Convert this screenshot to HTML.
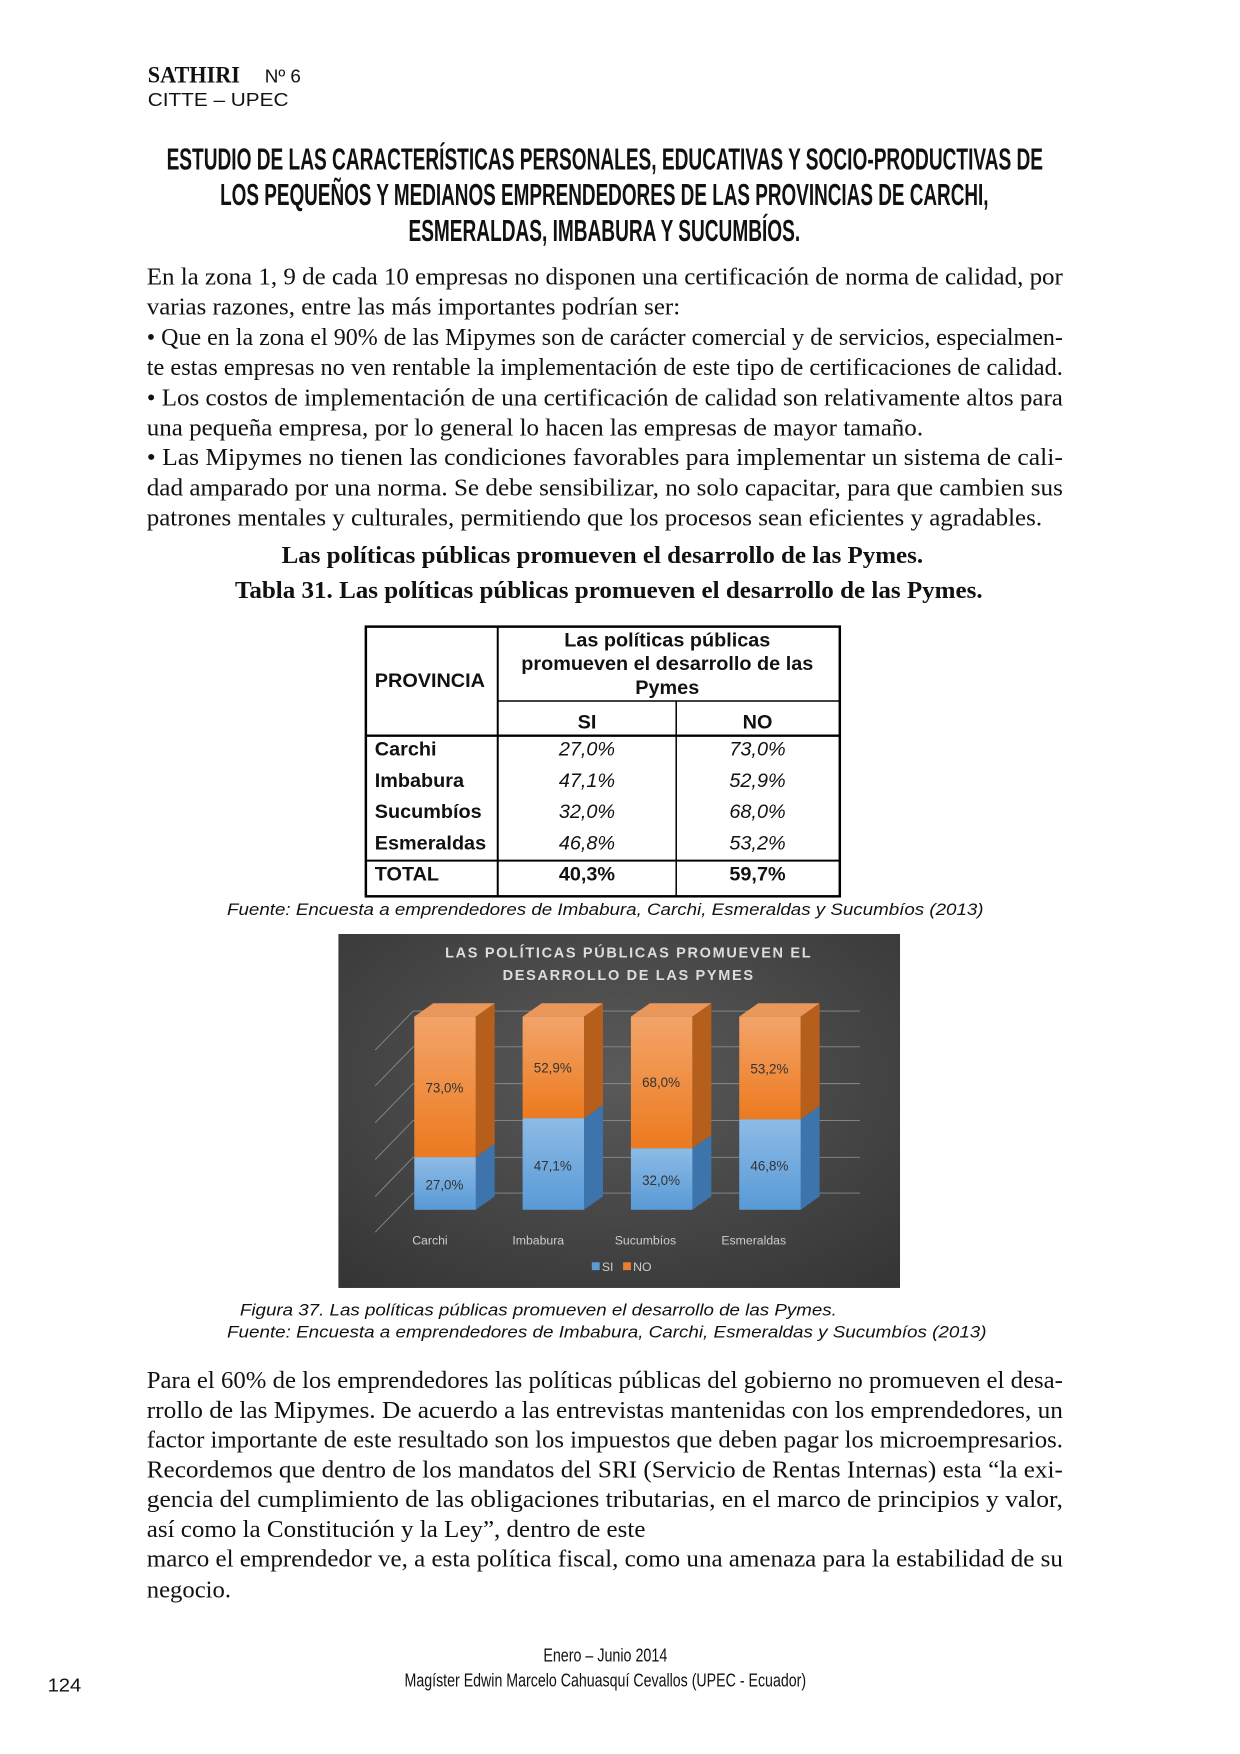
<!DOCTYPE html>
<html><head><meta charset="utf-8"><style>html,body{margin:0;padding:0;background:#fff}svg{display:block}</style></head>
<body>
<svg width="1240" height="1754" viewBox="0 0 1240 1754" xmlns="http://www.w3.org/2000/svg">
<rect width="1240" height="1754" fill="#fff"/>
<g fill="#111" transform="scale(0.9915)">
<text x="149" y="83" font-family="Liberation Serif, serif" font-weight="bold" font-size="23" textLength="93" lengthAdjust="spacingAndGlyphs">SATHIRI</text>
<text x="267" y="83" font-family="Liberation Sans, sans-serif" font-size="19">Nº 6</text>
<text x="149" y="107" font-family="Liberation Sans, sans-serif" font-size="19" textLength="142" lengthAdjust="spacingAndGlyphs">CITTE – UPEC</text>

<g font-family="Liberation Sans Narrow, Liberation Sans, sans-serif" font-weight="bold" font-size="31">
<text x="168" y="171" textLength="884" lengthAdjust="spacingAndGlyphs">ESTUDIO DE LAS CARACTERÍSTICAS PERSONALES, EDUCATIVAS Y SOCIO-PRODUCTIVAS DE</text>
<text x="222" y="207" textLength="775" lengthAdjust="spacingAndGlyphs">LOS PEQUEÑOS Y MEDIANOS EMPRENDEDORES DE LAS PROVINCIAS DE CARCHI,</text>
<text x="412" y="243" textLength="395" lengthAdjust="spacingAndGlyphs">ESMERALDAS, IMBABURA Y SUCUMBÍOS.</text>
</g>

<g font-family="Liberation Serif, serif" font-size="25">
<text x="148" y="287" textLength="924" lengthAdjust="spacingAndGlyphs">En la zona 1, 9 de cada 10 empresas no disponen una certificación de norma de calidad, por</text>
<text x="148" y="317" textLength="538" lengthAdjust="spacingAndGlyphs">varias razones, entre las más importantes podrían ser:</text>
<text x="148" y="348" textLength="924" lengthAdjust="spacingAndGlyphs">• Que en la zona el 90% de las Mipymes son de carácter comercial y de servicios, especialmen-</text>
<text x="148" y="378" textLength="924" lengthAdjust="spacingAndGlyphs">te estas empresas no ven rentable la implementación de este tipo de certificaciones de calidad.</text>
<text x="148" y="409" textLength="924" lengthAdjust="spacingAndGlyphs">• Los costos de implementación de una certificación de calidad son relativamente altos para</text>
<text x="148" y="439" textLength="783" lengthAdjust="spacingAndGlyphs">una pequeña empresa, por lo general lo hacen las empresas de mayor tamaño.</text>
<text x="148" y="469" textLength="924" lengthAdjust="spacingAndGlyphs">• Las Mipymes no tienen las condiciones favorables para implementar un sistema de cali-</text>
<text x="148" y="500" textLength="924" lengthAdjust="spacingAndGlyphs">dad amparado por una norma. Se debe sensibilizar, no solo capacitar, para que cambien sus</text>
<text x="148" y="530" textLength="903" lengthAdjust="spacingAndGlyphs">patrones mentales y culturales, permitiendo que los procesos sean eficientes y agradables.</text>
</g>
<g font-family="Liberation Serif, serif" font-size="25" font-weight="bold">
<text x="284" y="568" textLength="647" lengthAdjust="spacingAndGlyphs">Las políticas públicas promueven el desarrollo de las Pymes.</text>
<text x="237" y="603" textLength="754" lengthAdjust="spacingAndGlyphs">Tabla 31. Las políticas públicas promueven el desarrollo de las Pymes.</text>
</g>

<g stroke="#000" fill="none">
<rect x="369" y="632" width="478" height="272" stroke-width="2.5"/>
<line x1="502" y1="632" x2="502" y2="904" stroke-width="2"/>
<line x1="682" y1="707" x2="682" y2="904" stroke-width="1.5"/>
<line x1="502" y1="707" x2="847" y2="707" stroke-width="1.5"/>
<line x1="369" y1="742" x2="847" y2="742" stroke-width="2.5"/>
<line x1="369" y1="868" x2="847" y2="868" stroke-width="2"/>
</g>
<g font-family="Liberation Sans, sans-serif" font-size="20">
<text x="378" y="693" font-weight="bold">PROVINCIA</text>
<g font-weight="bold" text-anchor="middle">
<text x="673" y="652">Las políticas públicas</text>
<text x="673" y="676">promueven el desarrollo de las</text>
<text x="673" y="700">Pymes</text>
<text x="592" y="735">SI</text>
<text x="764" y="735">NO</text>
</g>
<g font-weight="bold">
<text x="378" y="762">Carchi</text>
<text x="378" y="794">Imbabura</text>
<text x="378" y="825">Sucumbíos</text>
<text x="378" y="857">Esmeraldas</text>
<text x="378" y="888">TOTAL</text>
</g>
<g font-style="italic" text-anchor="middle">
<text x="592" y="762">27,0%</text><text x="764" y="762">73,0%</text>
<text x="592" y="794">47,1%</text><text x="764" y="794">52,9%</text>
<text x="592" y="825">32,0%</text><text x="764" y="825">68,0%</text>
<text x="592" y="857">46,8%</text><text x="764" y="857">53,2%</text>
</g>
<g font-weight="bold" text-anchor="middle">
<text x="592" y="888">40,3%</text><text x="764" y="888">59,7%</text>
</g>
</g>
<text x="229" y="923" font-family="Liberation Sans, sans-serif" font-size="17" font-style="italic" textLength="763" lengthAdjust="spacingAndGlyphs">Fuente: Encuesta a emprendedores de Imbabura, Carchi, Esmeraldas y Sucumbíos (2013)</text>

<svg x="341" y="942" width="567" height="357" viewBox="303 836 503 317">
<defs>
<radialGradient id="bg" cx="0.5" cy="0.4" r="0.8"><stop offset="0" stop-color="#5a5a5a"/><stop offset="1" stop-color="#333"/></radialGradient>
<linearGradient id="or" x1="0" y1="0" x2="0" y2="1"><stop offset="0" stop-color="#f3a46a"/><stop offset="1" stop-color="#ec7a1f"/></linearGradient>
<linearGradient id="bl" x1="0" y1="0" x2="0" y2="1"><stop offset="0" stop-color="#8dbbe6"/><stop offset="1" stop-color="#589ad6"/></linearGradient>
</defs>
<rect x="303" y="836" width="503" height="317" fill="url(#bg)"/>
<g fill="#ddd" font-family="Liberation Sans, DejaVu Sans, sans-serif" font-size="13" font-weight="bold" text-anchor="middle" letter-spacing="1.5">
<text x="563" y="857">LAS POLÍTICAS PÚBLICAS PROMUEVEN EL</text>
<text x="563" y="877">DESARROLLO DE LAS PYMES</text>
</g>
<g stroke="#8a8a8a" stroke-width="0.8" fill="none">
<path d="M370 1068H770M370 1036H770M370 1003H770M370 970H770M370 937H770M370 905H770"/>
<path d="M336 1103L370 1068M336 1071L370 1036M336 1038L370 1003M336 1005L370 970M336 972L370 937M336 940L370 905"/>
</g>
<g>
<polygon points="371,1036 426,1036 443,1024 443,1071 426,1083" fill="#3d74ab"/>
<polygon points="426,910 443,898 443,1024 426,1036" fill="#b65e1c"/>
<polygon points="371,910 426,910 443,898 388,898" fill="#e9975a"/>
<rect x="371" y="910" width="55" height="126" fill="url(#or)"/>
<rect x="371" y="1036" width="55" height="47" fill="url(#bl)"/>

<polygon points="468,1001 523,1001 540,989 540,1071 523,1083" fill="#3d74ab"/>
<polygon points="523,910 540,898 540,989 523,1001" fill="#b65e1c"/>
<polygon points="468,910 523,910 540,898 485,898" fill="#e9975a"/>
<rect x="468" y="910" width="55" height="91" fill="url(#or)"/>
<rect x="468" y="1001" width="55" height="82" fill="url(#bl)"/>

<polygon points="565,1028 620,1028 637,1016 637,1071 620,1083" fill="#3d74ab"/>
<polygon points="620,910 637,898 637,1016 620,1028" fill="#b65e1c"/>
<polygon points="565,910 620,910 637,898 582,898" fill="#e9975a"/>
<rect x="565" y="910" width="55" height="118" fill="url(#or)"/>
<rect x="565" y="1028" width="55" height="55" fill="url(#bl)"/>

<polygon points="662,1002 717,1002 734,990 734,1071 717,1083" fill="#3d74ab"/>
<polygon points="717,910 734,898 734,990 717,1002" fill="#b65e1c"/>
<polygon points="662,910 717,910 734,898 679,898" fill="#e9975a"/>
<rect x="662" y="910" width="55" height="92" fill="url(#or)"/>
<rect x="662" y="1002" width="55" height="81" fill="url(#bl)"/>
</g>
<g fill="#333" font-family="Liberation Sans, DejaVu Sans, sans-serif" font-size="12" text-anchor="middle">
<text x="398" y="978">73,0%</text><text x="398" y="1065">27,0%</text>
<text x="495" y="960">52,9%</text><text x="495" y="1048">47,1%</text>
<text x="592" y="973">68,0%</text><text x="592" y="1061">32,0%</text>
<text x="689" y="961">53,2%</text><text x="689" y="1048">46,8%</text>
</g>
<g fill="#ccc" font-family="Liberation Sans, DejaVu Sans, sans-serif" font-size="11" text-anchor="middle">
<text x="385" y="1114">Carchi</text>
<text x="482" y="1114">Imbabura</text>
<text x="578" y="1114">Sucumbíos</text>
<text x="675" y="1114">Esmeraldas</text>
</g>
<rect x="530" y="1130" width="7" height="7" fill="#5b9bd5"/>
<text x="539" y="1138" fill="#ccc" font-family="Liberation Sans, sans-serif" font-size="11">SI</text>
<rect x="558" y="1130" width="7" height="7" fill="#ed7d31"/>
<text x="567" y="1138" fill="#ccc" font-family="Liberation Sans, sans-serif" font-size="11">NO</text>
</svg>

<g font-family="Liberation Sans, sans-serif" font-size="17" font-style="italic">
<text x="242" y="1327" textLength="602" lengthAdjust="spacingAndGlyphs">Figura 37. Las políticas públicas promueven el desarrollo de las Pymes.</text>
<text x="229" y="1349" textLength="766" lengthAdjust="spacingAndGlyphs">Fuente: Encuesta a emprendedores de Imbabura, Carchi, Esmeraldas y Sucumbíos (2013)</text>
</g>

<g font-family="Liberation Serif, serif" font-size="25">
<text x="148" y="1400" textLength="924" lengthAdjust="spacingAndGlyphs">Para el 60% de los emprendedores las políticas públicas del gobierno no promueven el desa-</text>
<text x="148" y="1430" textLength="924" lengthAdjust="spacingAndGlyphs">rrollo de las Mipymes. De acuerdo a las entrevistas mantenidas con los emprendedores, un</text>
<text x="148" y="1460" textLength="924" lengthAdjust="spacingAndGlyphs">factor importante de este resultado son los impuestos que deben pagar los microempresarios.</text>
<text x="148" y="1490" textLength="924" lengthAdjust="spacingAndGlyphs">Recordemos que dentro de los mandatos del SRI (Servicio de Rentas Internas) esta “la exi-</text>
<text x="148" y="1520" textLength="924" lengthAdjust="spacingAndGlyphs">gencia del cumplimiento de las obligaciones tributarias, en el marco de principios y valor,</text>
<text x="148" y="1550" textLength="503" lengthAdjust="spacingAndGlyphs">así como la Constitución y la Ley”, dentro de este</text>
<text x="148" y="1580" textLength="924" lengthAdjust="spacingAndGlyphs">marco el emprendedor ve, a esta política fiscal, como una amenaza para la estabilidad de su</text>
<text x="148" y="1611" textLength="85" lengthAdjust="spacingAndGlyphs">negocio.</text>
</g>

<g font-family="Liberation Sans Narrow, Liberation Sans, sans-serif" font-size="19">
<text x="548" y="1676" textLength="125" lengthAdjust="spacingAndGlyphs">Enero – Junio 2014</text>
<text x="408" y="1701" textLength="405" lengthAdjust="spacingAndGlyphs">Magíster Edwin Marcelo Cahuasquí Cevallos (UPEC - Ecuador)</text>
</g>
<text x="48" y="1706" font-family="Liberation Sans, sans-serif" font-size="19" textLength="34" lengthAdjust="spacingAndGlyphs">124</text>
</g>
</svg>
</body></html>
